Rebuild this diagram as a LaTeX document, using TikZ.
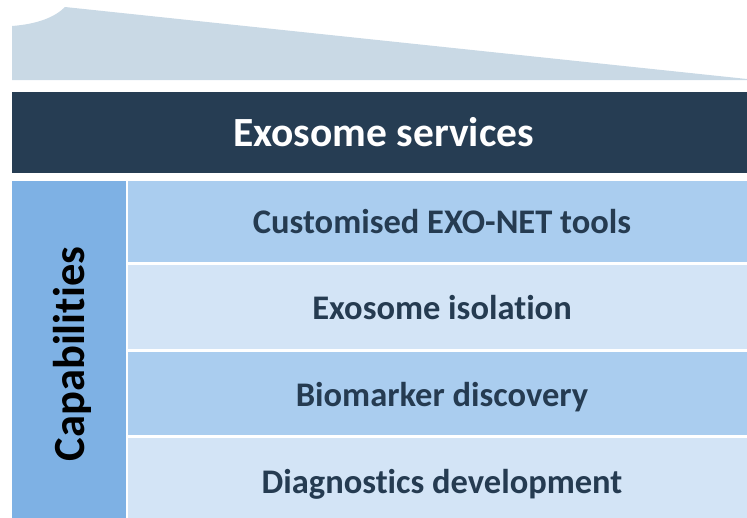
\documentclass[tikz,border=0pt]{standalone}
\usepackage{fontspec}
\setmainfont{Carlito}[Ligatures={NoCommon}]
\definecolor{roof}{HTML}{C9D9E5}
\definecolor{band}{HTML}{263D53}
\definecolor{capbox}{HTML}{7EB1E4}
\definecolor{rowA}{HTML}{AACDEF}
\definecolor{rowB}{HTML}{D3E4F6}
\definecolor{rowtext}{HTML}{253B51}
\tikzset{
  rowlabel/.style={font=\fontsize{34.5}{40}\selectfont\bfseries, text=rowtext, inner sep=0pt, anchor=base},
}
\begin{document}
\begin{tikzpicture}[x=1pt,y=-1pt]
\useasboundingbox (0,0) rectangle (747,517);
\clip (0,0) rectangle (747,517);
% roof
\fill[roof] (12,80) -- (12,26) .. controls (38,24) and (55,17) .. (65,7) -- (747,79) -- (747,80) -- cycle;
% dark band
\fill[band] (12,91.5) rectangle (747,172.7);
\node[font=\fontsize{41.5}{48}\selectfont\bfseries, text=white, inner sep=0pt, anchor=base] (title) at (383.5,146.5) {Exosome services};
% capabilities box
\fill[capbox] (12,181) rectangle (125.5,530);
\node[font=\fontsize{44.5}{50}\selectfont\bfseries, text=black, rotate=90, inner sep=0pt] (cap) at (72,354) {Capabilities};
% rows
\fill[rowA] (128.3,181) rectangle (760,262);
\fill[rowB] (128.3,264.7) rectangle (760,349);
\fill[rowA] (128.3,351.7) rectangle (760,435);
\fill[rowB] (128.3,438.3) rectangle (760,530);
\node[rowlabel] (r1) at (442,233) {Customised EXO-NET tools};
\node[rowlabel] (r2) at (442,319.8) {Exosome isolation};
\node[rowlabel] (r3) at (442,406.6) {Biomarker discovery};
\node[rowlabel] (r4) at (442,493.4) {Diagnostics development};
\end{tikzpicture}
\end{document}
